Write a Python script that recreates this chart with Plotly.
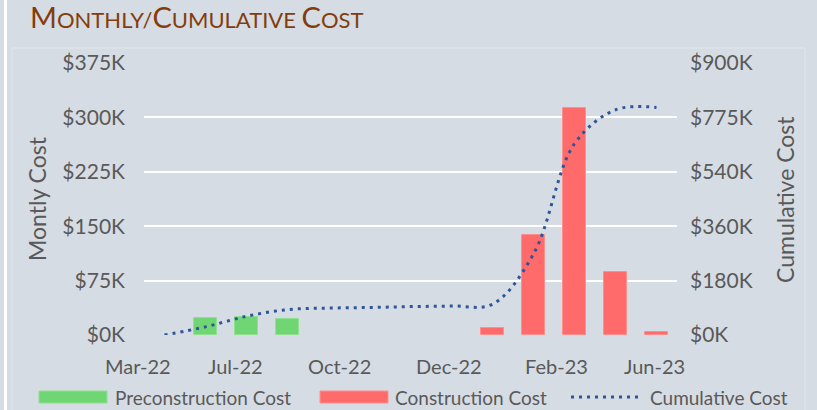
import plotly.graph_objects as go

# ---- data (values in $K) ----
periods = list(range(13))
precon_idx = [1, 2, 3]
precon_cost = [23.4, 24.8, 21.5]
constr_idx = [8, 9, 10, 11, 12]
constr_cost = [9.6, 138.3, 313.0, 86.3, 3.6]
cumulative_cost = [0, 27, 62, 84, 89, 91, 94, 96, 102, 268, 633, 745, 753]

x_tick_labels = ["Mar-22", "Jul-22", "Oct-22", "Dec-22", "Feb-23", "Jun-23"]
x_tick_pos = [-0.65, 1.72, 4.26, 6.94, 9.55, 11.94]
left_tick_vals = [0, 75, 150, 225, 300, 375]
left_tick_text = ["$0K", "$75K", "$150K", "$225K", "$300K", "$375K"]
right_tick_vals = [0, 180, 360, 540, 720, 900]
right_tick_text = ["$0K", "$180K", "$360K", "$540K", "$775K", "$900K"]

W, H = 817, 410
L, R, T, B = 144, 140, 63, 75
PW, PH = W - L - R, H - T - B
XMIN, XMAX = -0.5, 12.5

def px(x):
    return (x - L) / PW

def py(y):
    return (H - B - y) / PH

def dx(v):
    return (v - XMIN) / (XMAX - XMIN)

BG = "#D6DCE4"
TXT = "#595959"
FONT = "Lato"
GREEN = "#70D673"
RED = "#FF6B6B"
BLUE = "#2F5597"

fig = go.Figure()
fig.add_trace(go.Bar(x=precon_idx, y=precon_cost, name="Preconstruction Cost",
                     marker=dict(color=GREEN, line=dict(color="#8FE08F", width=1)),
                     width=0.58))
fig.add_trace(go.Bar(x=constr_idx, y=constr_cost, name="Construction Cost",
                     marker=dict(color=RED, line=dict(color="#FF8F8F", width=1)),
                     width=0.58))
fig.add_trace(go.Scatter(x=periods, y=cumulative_cost, name="Cumulative Cost", yaxis="y2",
                         mode="lines", line=dict(color=BLUE, width=3, dash="3px,5px", shape="spline")))

annotations = []
for lab, pos in zip(x_tick_labels, x_tick_pos):
    annotations.append(dict(text=lab, x=dx(pos), xref="paper", y=py(366), yref="paper",
                            showarrow=False, xanchor="center", yanchor="middle",
                            font=dict(family=FONT, size=20, color=TXT)))
annotations.append(dict(text="Montly Cost", x=px(37), y=py(199), xref="paper", yref="paper",
                        showarrow=False, textangle=-90, xanchor="center", yanchor="middle",
                        font=dict(family=FONT, size=23, color=TXT)))
annotations.append(dict(text="Cumulative Cost", x=px(785), y=py(200), xref="paper", yref="paper",
                        showarrow=False, textangle=-90, xanchor="center", yanchor="middle",
                        font=dict(family=FONT, size=23, color=TXT)))
# legend texts
for lab, x0 in [("Preconstruction Cost", 113), ("Construction Cost", 393), ("Cumulative Cost", 648)]:
    annotations.append(dict(text=lab, x=px(x0), y=py(397), xref="paper", yref="paper",
                            showarrow=False, xanchor="left", yanchor="middle",
                            font=dict(family=FONT, size=19, color=TXT)))

shapes = [
    dict(type="rect", xref="paper", yref="paper", x0=px(12), x1=px(805), y0=py(430), y1=py(48),
         line=dict(color="#E2E5EA", width=1), fillcolor="rgba(0,0,0,0)", layer="below"),
    dict(type="rect", xref="paper", yref="paper", x0=px(4), x1=px(7), y0=py(420), y1=py(-10),
         line=dict(width=0), fillcolor="#FFFFFF", layer="below"),
    dict(type="rect", xref="paper", yref="paper", x0=px(39), x1=px(107), y0=py(403), y1=py(391),
         line=dict(color="#8FE08F", width=1), fillcolor=GREEN),
    dict(type="rect", xref="paper", yref="paper", x0=px(320), x1=px(388), y0=py(403), y1=py(391),
         line=dict(color="#FF8F8F", width=1), fillcolor=RED),
    dict(type="line", xref="paper", yref="paper", x0=px(571), x1=px(640), y0=py(397), y1=py(397),
         line=dict(color=BLUE, width=3, dash="3px,5px")),
]

title_text = ("<span style='font-size:29px'>M</span>ONTHLY/"
              "<span style='font-size:29px'>C</span>UMULATIVE "
              "<span style='font-size:29px'>C</span>OST")

fig.update_layout(
    width=W, height=H,
    margin=dict(l=L, r=R, t=T, b=B, pad=0),
    paper_bgcolor=BG, plot_bgcolor=BG,
    barmode="overlay", bargap=0,
    showlegend=False,
    title=dict(text=title_text, xref="container", yref="container",
               x=30 / W, y=1 - 20 / H, xanchor="left", yanchor="middle",
               font=dict(family=FONT, size=22, color="#843C0C")),
    xaxis=dict(range=[XMIN, XMAX], showticklabels=False, showgrid=False, zeroline=False,
               ticks="", showline=False, fixedrange=True),
    yaxis=dict(range=[0, 375], tickvals=left_tick_vals, ticktext=left_tick_text,
               showgrid=True, gridcolor="#FFFFFF", gridwidth=2, zeroline=False,
               showline=False, ticks="", ticklabelstandoff=18,
               tickfont=dict(family=FONT, size=21, color=TXT)),
    yaxis2=dict(range=[0, 900], tickvals=right_tick_vals, ticktext=right_tick_text,
                overlaying="y", side="right", showgrid=False, zeroline=False,
                showline=False, ticks="", ticklabelstandoff=12,
                tickfont=dict(family=FONT, size=21, color=TXT)),
    annotations=annotations,
    shapes=shapes,
)

fig.write_html("out.html", config={"displayModeBar": False},
               post_script="document.body.style.margin='0';document.body.style.background='" + BG + "';")
